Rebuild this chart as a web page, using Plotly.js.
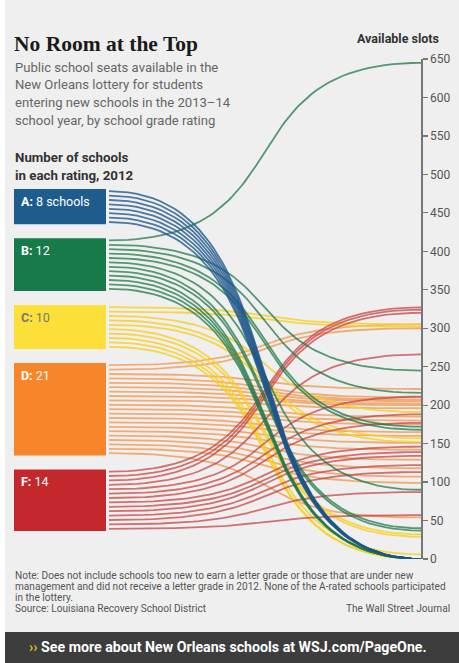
<!DOCTYPE html>
<html>
<head>
<meta charset="utf-8">
<script src="https://cdn.plot.ly/plotly-3.0.1.min.js"></script>
<style>
  html, body { margin: 0; padding: 0; background: #ffffff; }
  #chart { width: 459px; height: 663px; }
</style>
</head>
<body>
<div id="chart"></div>
<script>
// ---------------- DATA ----------------
const gradeLabels = ['A', 'B', 'C', 'D', 'F'];
const schoolCounts = [8, 12, 10, 21, 14];
// Available lottery slots per school (2013-14), grouped by 2012 grade
const slotsA = [0, 0, 0, 0, 0, 0, 0, 0];
const slotsB = [645, 245, 216, 172, 168, 90, 40, 37, 0, 0, 0, 0];
const slotsC = [305, 302, 191, 157, 152, 32, 29, 6, 0, 0];
const slotsD = [305, 300, 221, 210, 207, 205, 202, 200, 196, 185, 180, 175, 165, 160, 151, 142, 129, 118, 107, 99, 54];
const slotsF = [327, 324, 320, 266, 211, 188, 177, 146, 139, 134, 122, 113, 87, 57];
const yTickValues = [0, 50, 100, 150, 200, 250, 300, 350, 400, 450, 500, 550, 600, 650];

const titleText = 'No Room at the Top';
const subtitleLines = ['Public school seats available in the', 'New Orleans lottery for students', 'entering new schools in the 2013–14', 'school year, by school grade rating'];
const leftHeaderLines = ['Number of schools', 'in each rating, 2012'];
const axisTitle = 'Available slots';
const noteLines = ['Note: Does not include schools too new to earn a letter grade or those that are under new', 'management and did not receive a letter grade in 2012. None of the A-rated schools participated', 'in the lottery.'];
const sourceText = 'Source: Louisiana Recovery School District';
const creditText = 'The Wall Street Journal';
const bannerText = 'See more about New Orleans schools at WSJ.com/PageOne.';

// ---------------- STYLE / LAYOUT ----------------
const slotsByGrade = [slotsA, slotsB, slotsC, slotsD, slotsF];
const boxColors = ['#1d5c8c', '#177a4a', '#fddf3a', '#f7862a', '#c4282c'];
const lineColors = ['rgba(28,86,138,0.78)', 'rgba(30,120,70,0.74)', 'rgba(248,208,36,0.82)', 'rgba(242,148,76,0.74)', 'rgba(200,66,66,0.74)'];
const labelColors = ['#ffffff', '#ffffff', '#777777', '#ffffff', '#ffffff'];
const drawOrder = [3, 2, 4, 1, 0];

const W = 459, H = 663;
const M = {l: 14, r: 38, t: 59, b: 104};
const plotW = W - M.l - M.r, plotH = H - M.t - M.b;
const yMax = 650;
const pxPerUnit = plotH / yMax;
const xMin = -(109 - 14) / (421 - 109);
const boxRight = (106 - 109) / (421 - 109);
const px = x => (x - M.l) / plotW;
const py = y => (H - M.b - y) / plotH;
const pyToVal = y => (H - M.b - y) / pxPerUnit;

const perSchool = 4.4 / pxPerUnit;
const gapVal = 14 / pxPerUnit;
const topVal = pyToVal(189);

function curve(y0, y1) {
  const xs = [], ys = [], c = 0.64, n = 60;
  for (let i = 0; i <= n; i++) {
    const t = i / n, u = 1 - t;
    xs.push(3 * u * u * t * c + 3 * u * t * t * (1 - c) + t * t * t);
    ys.push((u * u * u + 3 * u * u * t) * y0 + (3 * u * t * t + t * t * t) * y1);
  }
  return {xs, ys};
}

// box positions
const boxes = [];
let cur = topVal;
for (let g = 0; g < gradeLabels.length; g++) {
  const top = cur, bottom = cur - schoolCounts[g] * perSchool;
  boxes.push({top, bottom});
  cur = bottom - gapVal;
}

const traces = [];
drawOrder.forEach(g => {
  const vals = slotsByGrade[g];
  vals.forEach((v, i) => {
    const y0 = boxes[g].top - (i + 0.5) * perSchool;
    const cv = curve(y0, v);
    traces.push({
      type: 'scatter', mode: 'lines', x: cv.xs, y: cv.ys,
      line: {color: lineColors[g], width: 1.8},
      hoverinfo: 'skip', showlegend: false, cliponaxis: false
    });
  });
});

const shapes = [];
shapes.push({type: 'rect', xref: 'paper', yref: 'paper', x0: px(0), x1: px(5), y0: py(H), y1: py(0), fillcolor: '#ffffff', line: {width: 0}, layer: 'below'});
shapes.push({type: 'rect', xref: 'paper', yref: 'paper', x0: px(5), x1: px(W), y0: py(H), y1: py(632), fillcolor: '#3d3d3d', line: {width: 0}, layer: 'below'});
boxes.forEach((b, g) => {
  shapes.push({type: 'rect', xref: 'x', yref: 'y', x0: xMin, x1: boxRight, y0: b.bottom, y1: b.top, fillcolor: boxColors[g], line: {width: 0}, layer: 'below'});
});

const annotations = [];
const sans = 'Roboto, sans-serif';
function ann(text, x, y, opts) {
  annotations.push(Object.assign({xref: 'paper', yref: 'paper', x: px(x), y: py(y), text: text, showarrow: false, xanchor: 'left', yanchor: 'middle', font: {family: sans, size: 12, color: '#555'}}, opts || {}));
}
ann('<b>' + titleText + '</b>', 12, 44, {font: {family: 'Liberation Serif, serif', size: 21.5, color: '#1a1a1a'}});
subtitleLines.forEach((t, i) => ann(t, 13, 67 + i * 17.7, {font: {family: sans, size: 13.1, color: '#666'}}));
leftHeaderLines.forEach((t, i) => ann('<b>' + t + '</b>', 13, 158 + i * 17, {font: {family: sans, size: 13.3, color: '#333'}}));
ann('<b>' + axisTitle + '</b>', 398, 39, {xanchor: 'center', font: {family: sans, size: 12.5, color: '#333'}});
boxes.forEach((b, g) => {
  const label = '<b>' + gradeLabels[g] + ':</b> ' + schoolCounts[g] + (g === 0 ? ' schools' : '');
  annotations.push({xref: 'paper', yref: 'y', x: px(19), y: b.top - 12 / pxPerUnit, text: label, showarrow: false, xanchor: 'left', yanchor: 'middle', font: {family: sans, size: 12.5, color: labelColors[g]}});
});
noteLines.forEach((t, i) => ann(t, 13, 575 + i * 11, {font: {family: sans, size: 10.1, color: '#555'}}));
ann(sourceText, 13, 608, {font: {family: sans, size: 10.1, color: '#555'}});
ann(creditText, 452, 608, {xanchor: 'right', font: {family: sans, size: 10.1, color: '#555'}});
ann('<span style="color:#f2d21b">&#8250;&#8250;</span> <b>' + bannerText + '</b>', 228, 647, {xanchor: 'center', font: {family: sans, size: 14.2, color: '#ffffff'}});

const layout = {
  width: W, height: H,
  margin: M,
  paper_bgcolor: '#efefef', plot_bgcolor: 'rgba(0,0,0,0)',
  showlegend: false,
  xaxis: {range: [xMin, 1], visible: false, fixedrange: true},
  yaxis: {
    range: [0, yMax], side: 'right', showgrid: false, zeroline: false,
    showline: true, linecolor: '#777', linewidth: 1.5,
    ticks: 'outside', ticklen: 5, tickcolor: '#777', tickwidth: 1.2,
    tickvals: yTickValues, ticktext: yTickValues.map(String),
    tickfont: {family: sans, size: 12, color: '#555'},
    fixedrange: true
  },
  shapes: shapes,
  annotations: annotations
};

Plotly.newPlot('chart', traces, layout, {displayModeBar: false, staticPlot: true});
</script>
</body>
</html>
